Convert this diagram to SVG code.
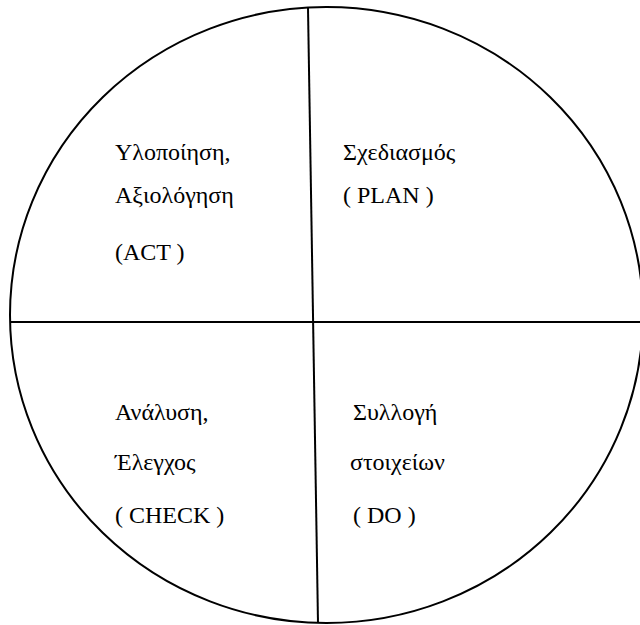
<svg xmlns="http://www.w3.org/2000/svg" width="640" height="625" viewBox="0 0 640 625">
<style>
svg text, g text, text{font-family:'Liberation Serif' !important;font-size:24px;fill:#000}
.s{fill:none;stroke:#000;stroke-width:2}
</style>
<rect width="640" height="625" fill="#fff"/>
<g id="circle"><ellipse class="s" cx="326.5" cy="315" rx="316.5" ry="308"/></g>
<g id="connectors">
<line class="s" x1="308" y1="8" x2="318" y2="623"/>
<line class="s" x1="10" y1="322" x2="643" y2="322"/>
</g>
<g id="act"><text x="115" y="160" font-family="Liberation Serif" style="font-family:'Liberation Serif' !important">Υλοποίηση,</text><text x="115" y="203" font-family="Liberation Serif" style="font-family:'Liberation Serif' !important">Αξιολόγηση</text><text x="115" y="260" font-family="Liberation Serif" style="font-family:'Liberation Serif' !important">(ACT )</text></g>
<g id="plan"><text x="343" y="160" font-family="Liberation Serif" style="font-family:'Liberation Serif' !important">Σχεδιασμός</text><text x="343" y="203" font-family="Liberation Serif" style="font-family:'Liberation Serif' !important">( PLAN )</text></g>
<g id="check"><text x="115" y="420" font-family="Liberation Serif" style="font-family:'Liberation Serif' !important">Ανάλυση,</text><text x="115" y="470" font-family="Liberation Serif" style="font-family:'Liberation Serif' !important">Έλεγχος</text><text x="115" y="523" font-family="Liberation Serif" style="font-family:'Liberation Serif' !important">( CHECK )</text></g>
<g id="do"><text x="353" y="420" font-family="Liberation Serif" style="font-family:'Liberation Serif' !important">Συλλογή</text><text x="350" y="470" font-family="Liberation Serif" style="font-family:'Liberation Serif' !important">στοιχείων</text><text x="353" y="523" font-family="Liberation Serif" style="font-family:'Liberation Serif' !important">( DO )</text></g>
</svg>
